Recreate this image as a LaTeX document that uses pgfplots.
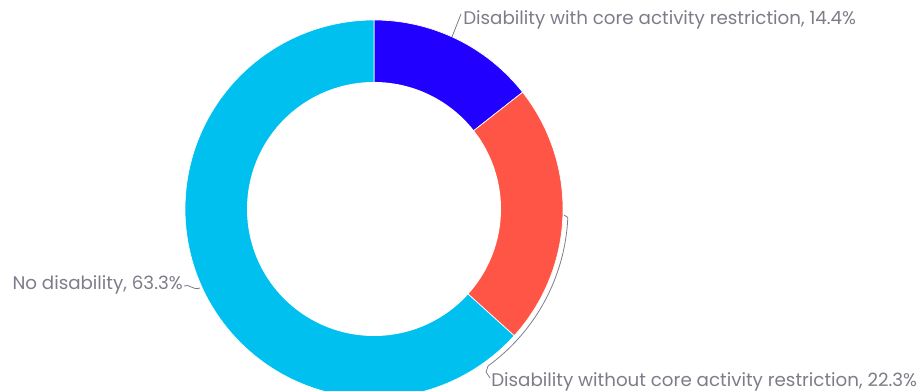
\documentclass[border=0pt]{standalone}
\usepackage{pgfplots}
\pgfplotsset{compat=1.18}
\usepackage{fontspec}
\setmainfont{Poppins}
\definecolor{cBlue}{RGB}{34,0,255}
\definecolor{cRed}{RGB}{255,85,70}
\definecolor{cCyan}{RGB}{0,192,240}
\definecolor{cText}{RGB}{125,125,138}
\begin{document}
\begin{tikzpicture}
\pgfmathsetmacro{\va}{14.4}
\pgfmathsetmacro{\vb}{22.3}
\pgfmathsetmacro{\vc}{63.3}
\pgfmathsetmacro{\aA}{90}
\pgfmathsetmacro{\aB}{90-3.6*\va}
\pgfmathsetmacro{\aC}{\aB-3.6*\vb}
\pgfmathsetmacro{\aD}{\aC-3.6*\vc}
\begin{axis}[
 width=692.25pt, height=293.25pt, scale only axis,
 xmin=0,xmax=923,ymin=-391,ymax=0, hide axis, clip=true]
\addplot[fill=cBlue, draw=white, line width=0.5pt, domain=\aB:\aA, samples=60] ({374+189*cos(x)},{-209+189*sin(x)}) -- (axis cs:374,-209) -- cycle;
\addplot[fill=cRed, draw=white, line width=0.5pt, domain=\aC:\aB, samples=80] ({374+189*cos(x)},{-209+189*sin(x)}) -- (axis cs:374,-209) -- cycle;
\addplot[fill=cCyan, draw=white, line width=0.5pt, domain=\aD:\aC, samples=200] ({374+189*cos(x)},{-209+189*sin(x)}) -- (axis cs:374,-209) -- cycle;
\addplot[fill=white, draw=none, domain=0:360, samples=200] ({374+127*cos(x)},{-209+127*sin(x)}) -- cycle;
% leader lines
\draw[cText, line width=0.6pt] (axis cs:452,-37) -- (axis cs:461,-14);
\draw[cText, line width=0.6pt] (axis cs:184,-286) .. controls (axis cs:189,-283) and (axis cs:193,-291) .. (axis cs:200,-288);
\addplot[cText, line width=0.6pt, domain=-54:-2.5, samples=60] ({374+194*cos(x)},{-209+194*sin(x)});
\draw[cText, line width=0.6pt] (axis cs:564,-215) -- (axis cs:567.8,-217.5);
\draw[cText, line width=0.6pt] (axis cs:488,-366) -- (axis cs:486,-372) -- (axis cs:490,-378);
% labels
\node[anchor=west, text=cText, font=\fontsize{13.7}{16}\selectfont, inner sep=0pt] at (axis cs:463,-20) {Disability with core activity restriction, 14.4\%};
\node[anchor=east, text=cText, font=\fontsize{13.7}{16}\selectfont, inner sep=0pt] at (axis cs:183,-285) {No disability, 63.3\%};
\node[anchor=west, text=cText, font=\fontsize{13.7}{16}\selectfont, inner sep=0pt] at (axis cs:491,-382) {Disability without core activity restriction, 22.3\%};
\end{axis}
\pgfresetboundingbox
\path[use as bounding box] (current axis.south west) rectangle (current axis.north east);
\end{tikzpicture}
\end{document}
